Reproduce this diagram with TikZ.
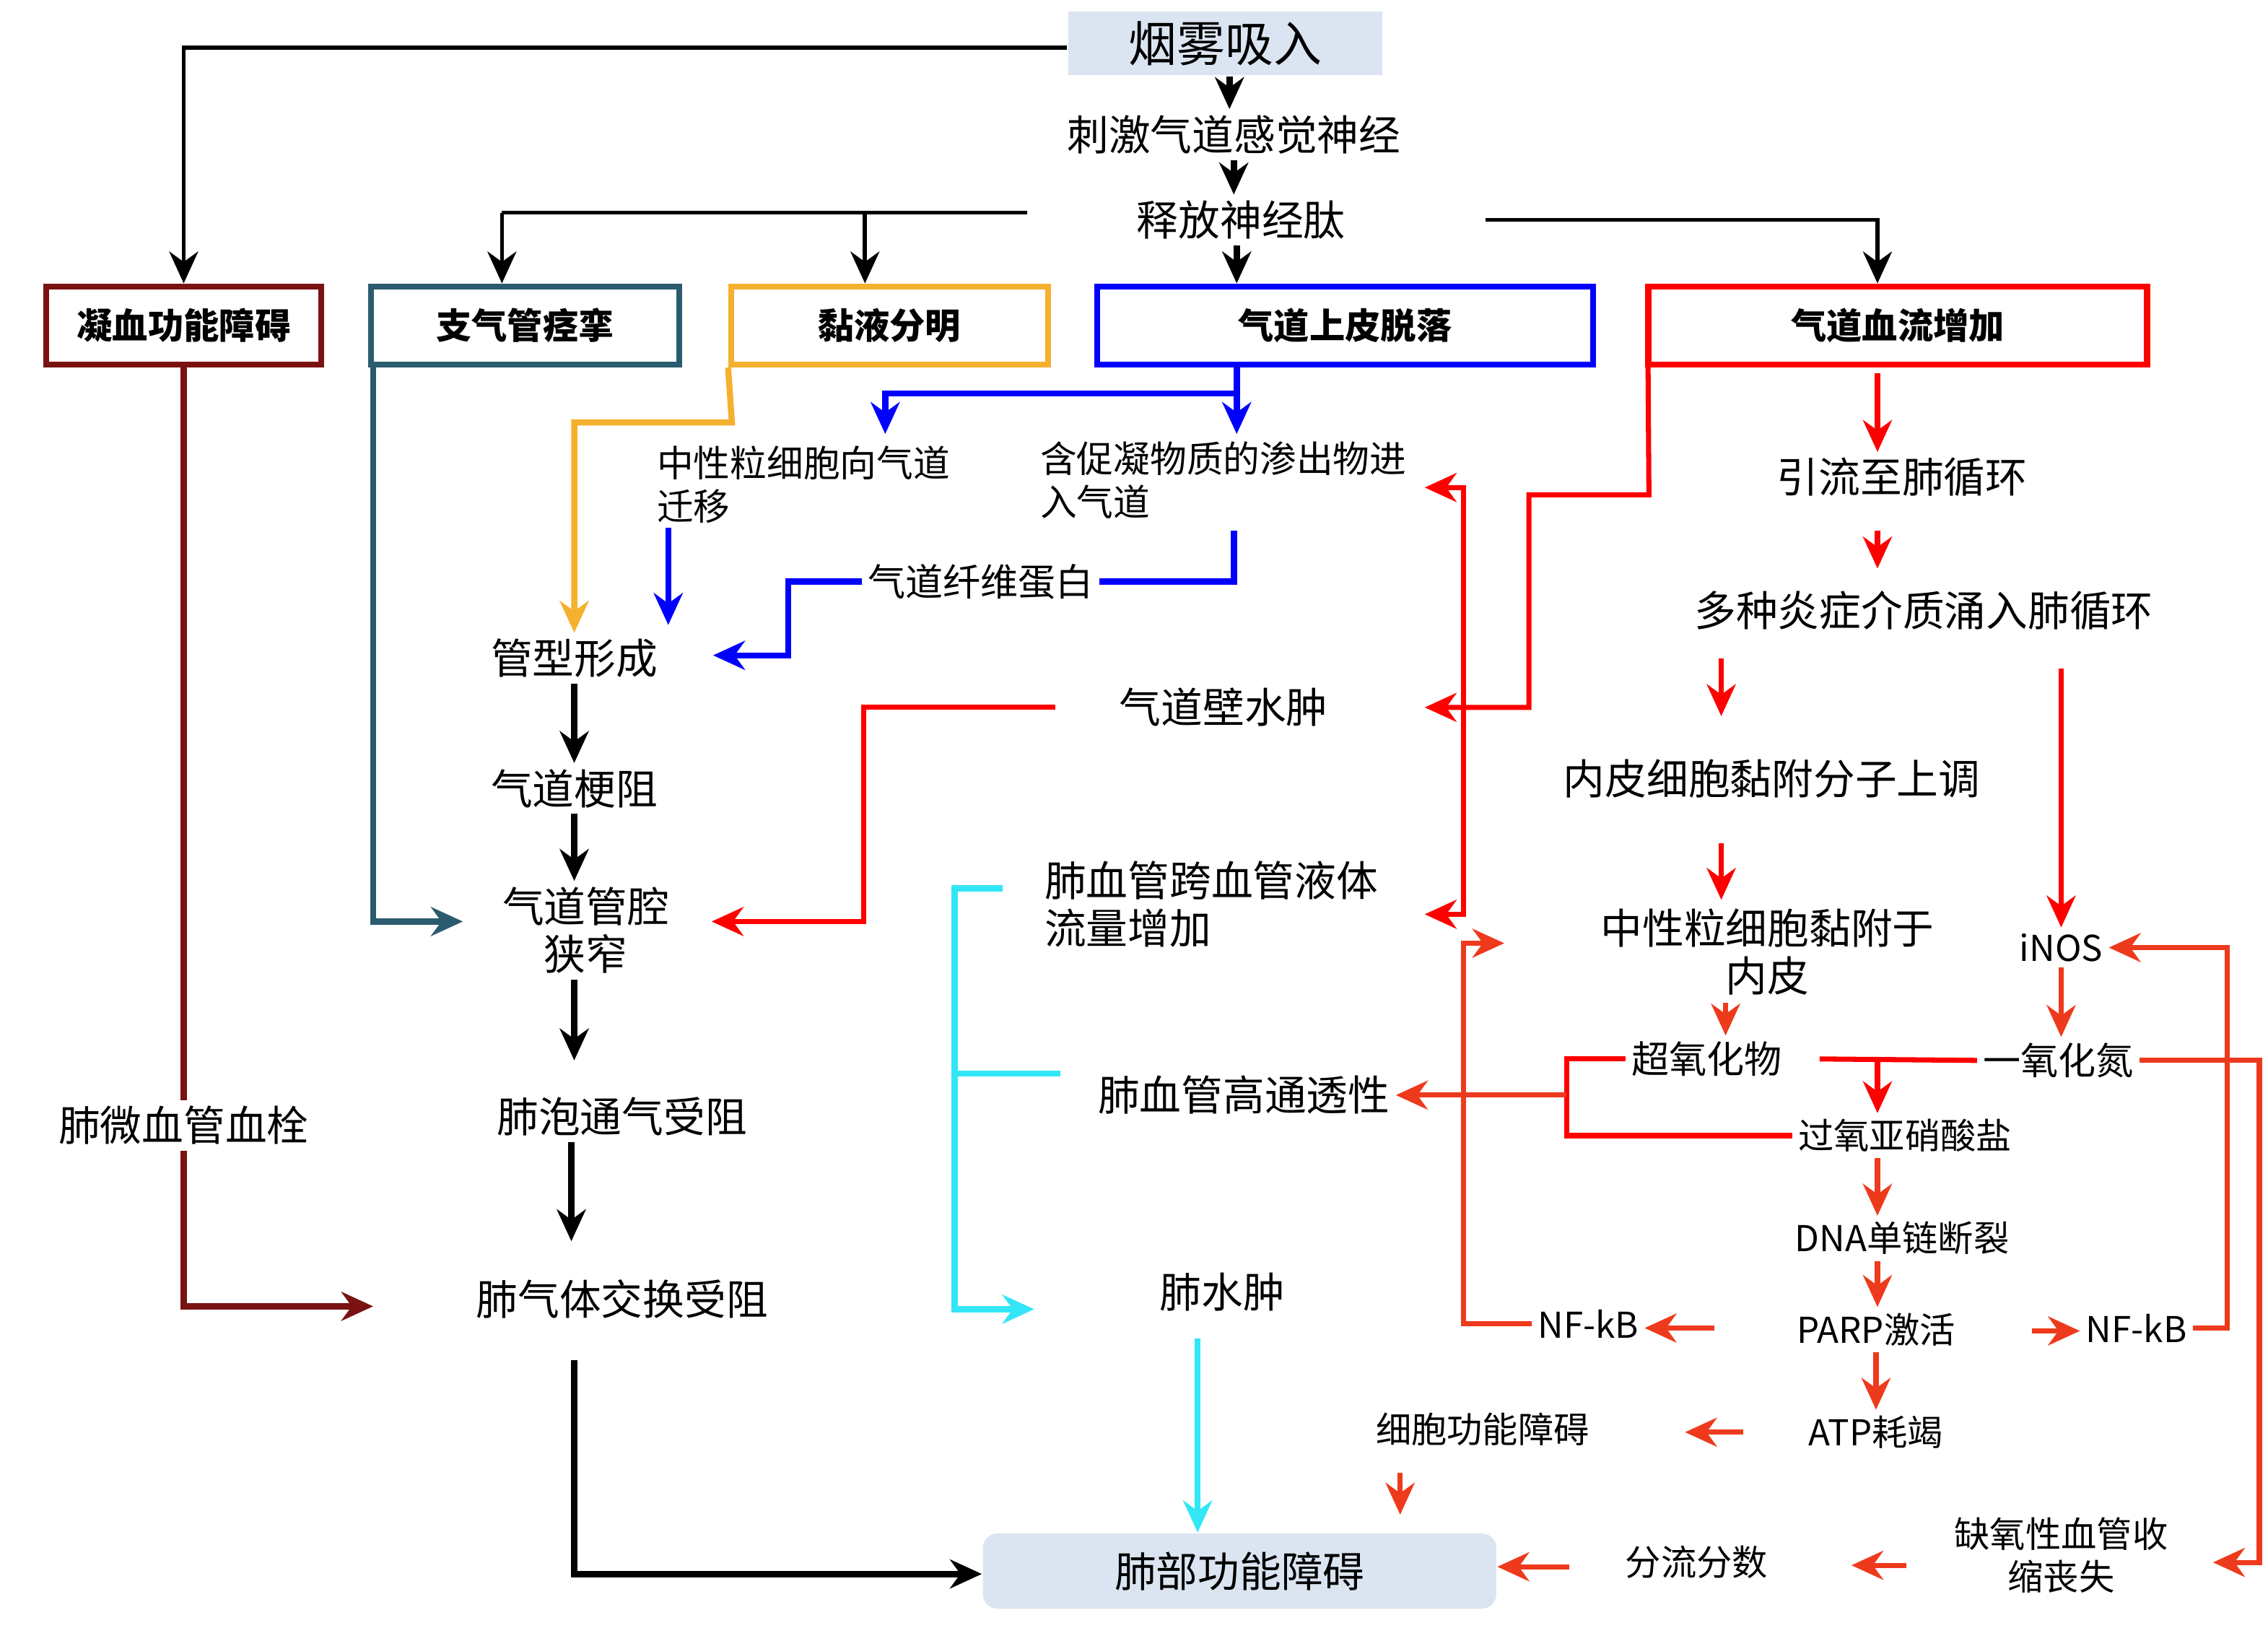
\documentclass[tikz,border=0pt]{standalone}
\usepackage{fontspec}
\setmainfont{Noto Sans CJK SC}
\usepackage{xcolor}
\usetikzlibrary{arrows.meta,positioning}
\definecolor{boxblue}{HTML}{DBE5F1}
\definecolor{darkred}{HTML}{7A1212}
\definecolor{teal}{HTML}{2B5B6E}
\definecolor{mucus}{HTML}{F5B02E}
\definecolor{orred}{HTML}{EE3A1C}
\definecolor{cyanline}{HTML}{33E6F5}
\tikzset{
  >={Stealth[length=2.2mm,width=2mm]},
  txt/.style={inner sep=1pt, font=\fontsize{8.2}{10}\selectfont},
  sml/.style={inner sep=1pt, font=\fontsize{7}{9}\selectfont},
  two/.style={inner sep=1pt, align=left, font=\fontsize{7.2}{8.6}\selectfont},
  hdr/.style={draw=#1, line width=1.2pt, minimum height=5.4mm, inner sep=0pt, font=\fontsize{7}{9}\selectfont\bfseries},
  bk/.style={black, line width=0.8pt, ->},
  thk/.style={black, line width=1.3pt, ->},
  rd/.style={red, line width=1pt},
  ord/.style={orred, line width=1pt},
}
\begin{document}
\begin{tikzpicture}[x=0.1mm, y=-0.1mm]
\useasboundingbox (0,0) rectangle (1568,1125);
% top chain
\node[fill=boxblue, minimum width=21.7mm, minimum height=4.4mm, txt, font=\fontsize{9.5}{11}\selectfont] (smoke) at (847,30) {烟雾吸入};
\node[txt] (nerve) at (853,93) {刺激气道感觉神经};
\node[txt] (pept) at (858,152) {释放神经肽};
% header boxes
\node[hdr=darkred, minimum width=19mm] (coag) at (127,225) {凝血功能障碍};
\node[hdr=teal, minimum width=21.3mm] (bron) at (363,225) {支气管痉挛};
\node[hdr=mucus, minimum width=21.9mm] (muc) at (615,225) {黏液分明};
\node[hdr=blue, minimum width=34.3mm] (epi) at (930,225) {气道上皮脱落};
\node[hdr=red, minimum width=34.5mm] (flow) at (1312,225) {气道血流增加};
% middle
\node[two, anchor=west] (neut) at (450,335) {中性粒细胞向气道\\迁移};
\node[two, anchor=west] (exud) at (715,332) {含促凝物质的渗出物进\\入气道};
\node[sml, font=\fontsize{7.4}{9}\selectfont] (fib) at (678,402) {气道纤维蛋白};
\node[txt] (cast) at (397,455) {管型形成};
\node[txt] (obst) at (397,545) {气道梗阻};
\node[txt, align=center, font=\fontsize{8.2}{9.4}\selectfont] (narrow) at (405,643) {气道管腔\\狭窄};
\node[txt] (alv) at (430,772) {肺泡通气受阻};
\node[txt] (gas) at (430,898) {肺气体交换受阻};
\node[txt] (thromb) at (127,778) {肺微血管血栓};
\node[txt] (edema) at (846,489) {气道壁水肿};
\node[txt, align=left, anchor=west, font=\fontsize{8.2}{9.4}\selectfont] (trans) at (718,625) {肺血管跨血管液体\\流量增加};
\node[txt] (perm) at (860,757) {肺血管高通透性};
\node[txt] (pedema) at (845,893) {肺水肿};
\node[fill=boxblue, rounded corners=1mm, minimum width=35.5mm, minimum height=5.2mm, txt] (lung) at (857,1086) {肺部功能障碍};
% right
\node[txt] (drain) at (1315,330) {引流至肺循环};
\node[txt] (infl) at (1330,422) {多种炎症介质涌入肺循环};
\node[txt] (endo) at (1225,538) {内皮细胞黏附分子上调};
\node[txt, align=center, font=\fontsize{8.2}{9.4}\selectfont] (nadh) at (1222,658) {中性粒细胞黏附于\\内皮};
\node[sml] (inos) at (1425,655) {iNOS};
\node[sml, font=\fontsize{7.4}{9}\selectfont] (super) at (1180,732) {超氧化物};
\node[sml, font=\fontsize{7.4}{9}\selectfont] (no) at (1423,733) {一氧化氮};
\node[sml] (perox) at (1317,785) {过氧亚硝酸盐};
\node[sml] (dna) at (1315,856) {DNA单链断裂};
\node[sml] (parp) at (1297,919) {PARP激活};
\node[sml] (nfa) at (1098,915) {NF-kB};
\node[sml] (nfb) at (1477,918) {NF-kB};
\node[sml] (atp) at (1297,990) {ATP耗竭};
\node[sml] (cell) at (1025,988) {细胞功能障碍};
\node[sml] (shunt) at (1173,1080) {分流分数};
\node[sml, align=center, font=\fontsize{7}{8.4}\selectfont] (hypox) at (1425,1075) {缺氧性血管收\\缩丧失};
% black top
\draw[bk] (smoke.west |- 0,33) -- (127,33) -- (coag.north);
\draw[thk] (smoke.south -| 850,0) -- (nerve.north -| 850,0);
\draw[thk] (nerve.south -| 853,0) -- (pept.north -| 853,0);
\draw[thk] (pept.south -| 855,0) -- (epi.north -| 855,0);
\draw[black, line width=0.8pt] (710,147) -- (347,147);
\draw[bk] (347,147) -- (bron.north -| 347,0);
\draw[bk] (598,147) -- (muc.north -| 598,0);
\draw[bk] (1027,152) -- (1298,152) -- (flow.north -| 1298,0);
% coag / bron / mucus
\draw[darkred, line width=1.2pt] (coag.south) -- (thromb.north);
\draw[darkred, line width=1.2pt, ->] (thromb.south) -- (127,903) -- (258,903);
\draw[teal, line width=1.2pt, ->] (bron.south -| 258,0) -- (258,637) -- (320,637);
\draw[mucus, line width=1.2pt, ->] (muc.south west) -- (506,292) -- (397,292) -- (cast.north);
% blue
\draw[blue, line width=1.2pt, ->] (855,253) -- (855,272) -- (612,272) -- (612,300);
\draw[blue, line width=1.2pt, ->] (855,272) -- (855,300);
\draw[blue, line width=1.2pt, ->] (462,365) -- (462,432);
\draw[blue, line width=1.2pt] (853,367) -- (853,402) -- (fib.east);
\draw[blue, line width=1.2pt, ->] (fib.west) -- (545,402) -- (545,453) -- (493,453);
% black column
\draw[thk] (cast.south) -- (obst.north);
\draw[thk] (obst.south) -- (narrow.north -| 397,0);
\draw[thk] (narrow.south -| 397,0) -- (397,733);
\draw[thk] (alv.south -| 395,0) -- (395,858);
\draw[thk] (397,940) -- (397,1088) -- (lung.west |- 0,1088);
% red left
\draw[rd, ->] ([xshift=-4mm]edema.west) -- (597,489) -- (597,637) -- (492,637);
\draw[rd, ->] (flow.south west) ++(2,0) -- (1140,342) -- (1057,342) -- (1057,489) -- (985,489);
\draw[rd, <->] (985,337) -- (1012,337) -- (1012,632) -- (985,632);
% red right
\draw[rd, ->] (1298,258) -- (drain.north -| 1298,0);
\draw[rd, ->] (1298,367) -- (1298,393);
\draw[rd, ->] (1190,455) -- (1190,495);
\draw[rd, ->] (1425,462) -- (inos.north);
\draw[rd, ->] (1190,583) -- (1190,622);
\draw[ord, ->] (inos.south) -- (no.north -| inos.south);
\draw[ord, ->] (1193,693) -- (super.north -| 1193,0);
\draw[rd] (1258,732) -- (no.west);
\draw[rd, ->] (1298,732) -- (perox.north -| 1298,0);
\draw[rd] (super.west) -- (1083,732) -- (1083,785) -- (perox.west);
\draw[ord, ->] (1083,757) -- (perm.east);
\draw[ord, ->] (perox.south -| 1298,0) -- (dna.north -| 1298,0);
\draw[ord, ->] (dna.south -| 1298,0) -- (parp.north -| 1298,0);
\draw[ord, ->] (1185,918) -- (nfa.east |- 0,918);
\draw[ord, ->] (1405,920) -- (nfb.west |- 0,920);
\draw[ord, ->] (parp.south) -- (atp.north);
\draw[ord, ->] (1205,990) -- (1165,990);
\draw[ord, ->] (968,1018) -- (968,1047);
\draw[ord, ->] (1085,1083) -- (lung.east |- 0,1083);
\draw[ord, ->] (1318,1082) -- (1280,1082);
\draw[ord, ->] (nfa.west) -- (1012,915) -- (1012,652) -- (1040,652);
\draw[ord, ->] (no.east) -- (1562,733) -- (1562,1080) -- (1530,1080);
\draw[ord, ->] (nfb.east) -- (1540,918) -- (1540,655) -- (inos.east);
% cyan
\draw[cyanline, line width=1.2pt, ->] (693,614) -- (660,614) -- (660,905) -- (715,905);
\draw[cyanline, line width=1.2pt] (660,742) -- (733,742);
\draw[cyanline, line width=1.2pt, ->] (828,925) -- (lung.north -| 828,0);
\end{tikzpicture}
\end{document}
